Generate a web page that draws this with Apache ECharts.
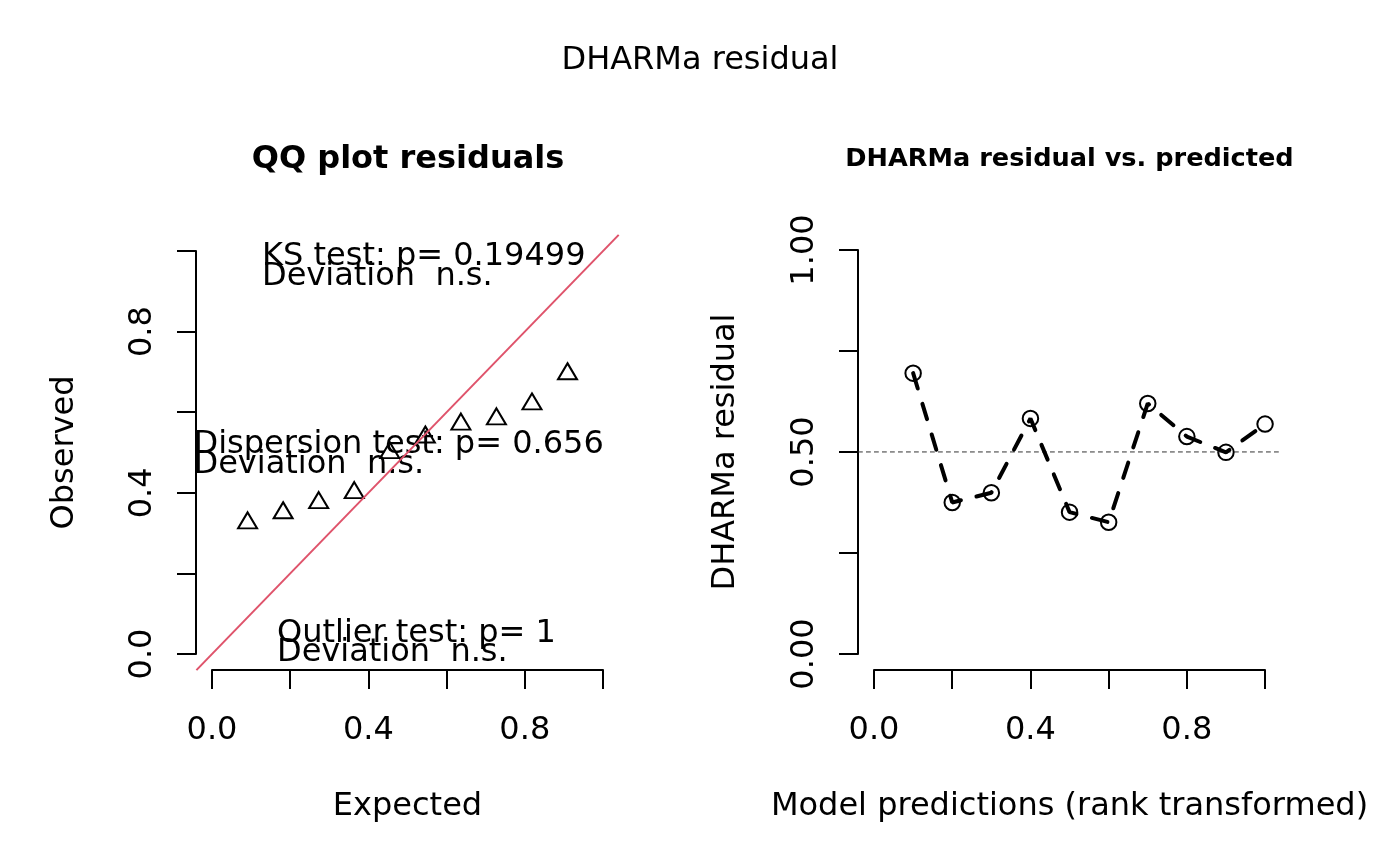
<!DOCTYPE html>
<html>
<head>
<meta charset="utf-8">
<title>DHARMa residual</title>
<script src="https://cdn.jsdelivr.net/npm/echarts@6.0.0/dist/echarts.min.js"></script>
<style>
	html, body { margin: 0; padding: 0; background: #fff; }
	#main { width: 1400px; height: 866px; }
</style>
</head>
<body>
<div id="main"></div>
<script>
// QQ plot: expected uniform quantiles vs sorted residuals
var qqExpected = [0.0909, 0.1818, 0.2727, 0.3636, 0.4545, 0.5455, 0.6364, 0.7273, 0.8182, 0.9091];
var qqObserved = [0.325, 0.350, 0.375, 0.400, 0.499, 0.538, 0.570, 0.583, 0.620, 0.695];
var ablineX = [-0.04, 1.04];

// residual vs predicted (rank transformed)
var predRank = [0.1, 0.2, 0.3, 0.4, 0.5, 0.6, 0.7, 0.8, 0.9, 1.0];
var residual = [0.695, 0.375, 0.399, 0.583, 0.351, 0.326, 0.620, 0.538, 0.499, 0.569];
var refLineX = [-0.04, 1.04];
var refLineY = 0.5;

// tick labels (R drops every other label)
var qqXLabels = ['0.0', '', '0.4', '', '0.8', ''];
var qqYLabels = ['0.0', '', '0.4', '', '0.8', ''];
var resXLabels = ['0.0', '', '0.4', '', '0.8', ''];
var resYLabels = ['0.00', '', '0.50', '', '1.00'];

var testLines = [
	['KS test: p= 0.19499', 'Deviation  n.s.'],
	['Dispersion test: p= 0.656', 'Deviation  n.s.'],
	['Outlier test: p= 1', 'Deviation  n.s.']
];

var FONT = '"DejaVu Sans", "Liberation Sans", sans-serif';

function pairs(xs, ys) {
	var out = [];
	for (var i = 0; i < xs.length; i++) {
		out.push([xs[i], ys[i]]);
	}
	return out;
}

// visible axis, drawn like R: line only from first to last tick, pushed out 16px
function rAxis(grid, step, labels, name, isY, gap) {
	return {
		type: 'value',
		gridIndex: grid,
		min: 0,
		max: 1,
		interval: step,
		offset: 16,
		name: name,
		nameLocation: 'middle',
		nameGap: gap,
		nameRotate: isY ? 90 : 0,
		nameTextStyle: { fontSize: 32, fontFamily: FONT, color: '#000' },
		axisLine: { show: true, onZero: false, lineStyle: { color: '#000', width: 2 } },
		axisTick: { show: true, inside: false, length: 19, lineStyle: { color: '#000', width: 2 } },
		axisLabel: {
			show: true,
			margin: isY ? 37 : 45,
			rotate: isY ? 90 : 0,
			fontSize: 32,
			fontFamily: FONT,
			color: '#000',
			showMinLabel: true,
			showMaxLabel: true,
			formatter: function (value) {
				return labels[Math.round(value / step)] || '';
			}
		},
		splitLine: { show: false }
	};
}

// hidden axis for the data region (R usr = range +/- 4%)
function dataAxis(grid) {
	return {
		type: 'value',
		gridIndex: grid,
		min: -0.04,
		max: 1.04,
		show: false,
		axisLine: { onZero: false },
		splitLine: { show: false }
	};
}

function txt(s, x, y, size, weight, align) {
	return {
		type: 'text',
		x: x,
		y: y,
		silent: true,
		style: {
			text: s,
			font: weight + ' ' + size + 'px ' + FONT,
			fill: '#000',
			align: align,
			textAlign: align,
			verticalAlign: 'middle',
			textVerticalAlign: 'middle'
		}
	};
}

var chart = echarts.init(document.getElementById('main'), null, { renderer: 'canvas' });

chart.setOption({
	animation: false,
	backgroundColor: '#fff',
	grid: [
		{ left: 212, top: 251, width: 391, height: 403 },
		{ left: 196.4, top: 234.9, width: 422.3, height: 435.2 },
		{ left: 874, top: 250, width: 391, height: 404 },
		{ left: 858.4, top: 233.8, width: 422.3, height: 436.3 }
	],
	xAxis: [
		rAxis(0, 0.2, qqXLabels, 'Expected', false, 121),
		dataAxis(1),
		rAxis(2, 0.2, resXLabels, 'Model predictions (rank transformed)', false, 121),
		dataAxis(3)
	],
	yAxis: [
		rAxis(0, 0.2, qqYLabels, 'Observed', true, 115),
		dataAxis(1),
		rAxis(2, 0.25, resYLabels, 'DHARMa residual', true, 116),
		dataAxis(3)
	],
	graphic: [
		txt('DHARMa residual', 700, 61, 32, 'normal', 'center'),
		txt('QQ plot residuals', 408, 160, 32, 'bold', 'center'),
		txt('DHARMa residual vs. predicted', 1069.5, 159.5, 25.6, 'bold', 'center'),
		txt(testLines[0][0], 262, 257, 32, 'normal', 'left'),
		txt(testLines[0][1], 262, 276.5, 32, 'normal', 'left'),
		txt(testLines[1][0], 193.5, 445, 32, 'normal', 'left'),
		txt(testLines[1][1], 193.5, 464.5, 32, 'normal', 'left'),
		txt(testLines[2][0], 277, 633.5, 32, 'normal', 'left'),
		txt(testLines[2][1], 277, 653, 32, 'normal', 'left')
	],
	series: [
		{
			// 1:1 line
			type: 'line',
			xAxisIndex: 1,
			yAxisIndex: 1,
			symbol: 'none',
			silent: true,
			data: pairs(ablineX, ablineX),
			lineStyle: { color: '#DF536B', width: 2 }
		},
		{
			type: 'scatter',
			xAxisIndex: 1,
			yAxisIndex: 1,
			symbol: 'triangle',
			symbolSize: [19, 16],
			symbolOffset: [0, -2.7],
			data: pairs(qqExpected, qqObserved),
			itemStyle: { color: 'rgba(0,0,0,0)', borderColor: '#000', borderWidth: 2, opacity: 1 }
		},
		{
			// horizontal reference at 0.5
			type: 'line',
			xAxisIndex: 3,
			yAxisIndex: 3,
			symbol: 'none',
			silent: true,
			data: pairs(refLineX, [refLineY, refLineY]),
			lineStyle: { color: '#333', width: 1, type: [4, 4], cap: 'round' }
		},
		{
			type: 'line',
			xAxisIndex: 3,
			yAxisIndex: 3,
			symbol: 'none',
			data: pairs(predRank, residual),
			lineStyle: { color: '#000', width: 4, type: [16, 16], cap: 'round' }
		},
		{
			type: 'scatter',
			xAxisIndex: 3,
			yAxisIndex: 3,
			symbol: 'circle',
			symbolSize: 15.5,
			data: pairs(predRank, residual),
			itemStyle: { color: 'rgba(0,0,0,0)', borderColor: '#000', borderWidth: 2, opacity: 1 }
		}
	]
});
</script>
</body>
</html>
